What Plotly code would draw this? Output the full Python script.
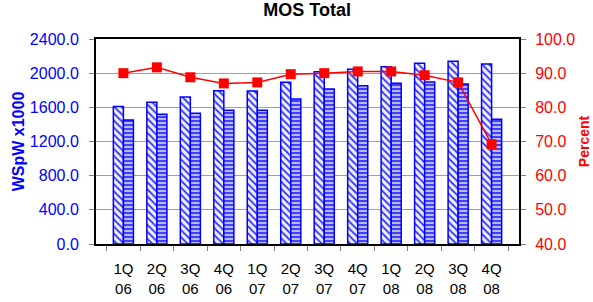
import plotly.graph_objects as go
from plotly.subplots import make_subplots

quarters = ["1Q<br>06", "2Q<br>06", "3Q<br>06", "4Q<br>06", "1Q<br>07", "2Q<br>07",
            "3Q<br>07", "4Q<br>07", "1Q<br>08", "2Q<br>08", "3Q<br>08", "4Q<br>08"]
wspw_a = [1610, 1660, 1720, 1795, 1790, 1893, 2018, 2045, 2076, 2115, 2139, 2108]
wspw_b = [1452, 1520, 1530, 1565, 1565, 1698, 1815, 1854, 1881, 1897, 1873, 1460]
percent = [90.0, 91.7, 88.8, 87.0, 87.3, 89.7, 90.0, 90.5, 90.5, 89.4, 87.3, 69.2]

FONT = "Liberation Sans, Arial, sans-serif"

fig = make_subplots(specs=[[{"secondary_y": True}]])

fig.add_trace(go.Bar(
    x=quarters, y=wspw_a, name="A",
    marker=dict(color="white", line=dict(color="#0000ff", width=1.5),
                pattern=dict(shape="\\", fgcolor="#3333ff", bgcolor="#f0f0ff",
                             size=5, solidity=0.35, fillmode="replace")),
), secondary_y=False)
fig.add_trace(go.Bar(
    x=quarters, y=wspw_b, name="B",
    marker=dict(color="white", line=dict(color="#0000ff", width=1.5),
                pattern=dict(shape="-", fgcolor="#3333ff", bgcolor="#b8b8ff",
                             size=4, solidity=0.45, fillmode="replace")),
), secondary_y=False)
fig.add_trace(go.Scatter(
    x=quarters, y=percent, name="Percent", mode="lines+markers",
    line=dict(color="#ff0000", width=1.5),
    marker=dict(symbol="square", size=10, color="#ff0000"),
), secondary_y=True)

fig.update_layout(
    width=593, height=302,
    margin=dict(l=96, r=74, t=39, b=58, autoexpand=False),
    paper_bgcolor="white", plot_bgcolor="white",
    showlegend=False,
    barmode="group", bargap=0.40, bargroupgap=0.0,
    title=dict(text="<b>MOS Total</b>", x=0.518, xanchor="center", y=0.99, yanchor="top",
               font=dict(family=FONT, size=18, color="black")),
    font=dict(family=FONT),
)
fig.update_layout(xaxis=dict(domain=[0, 1]))

fig.update_xaxes(
    type="category", tickson="boundaries", automargin=False,
    ticks="outside", ticklen=5, tickcolor="#808080",
    ticklabelstandoff=10,
    showline=True, linecolor="black", linewidth=2, mirror=True,
    showgrid=False,
    tickfont=dict(family=FONT, size=15, color="black"),
)
fig.update_yaxes(
    range=[0, 2400], dtick=400, tickformat=".1f", automargin=False,
    ticks="outside", ticklen=5, tickcolor="#808080",
    ticklabelstandoff=7,
    showline=True, linecolor="black", linewidth=2,
    showgrid=True, gridcolor="#a0a0a0", gridwidth=1,
    zeroline=False,
    tickfont=dict(family=FONT, size=16, color="#0000ff"),
    title=dict(text="<b>WSpW x1000</b>", font=dict(family=FONT, size=16, color="#0000ff"), standoff=1),
    secondary_y=False,
)
fig.update_yaxes(
    range=[40, 100], dtick=10, tickformat=".1f", automargin=False,
    ticks="outside", ticklen=5, tickcolor="#808080",
    ticklabelstandoff=6,
    showline=True, linecolor="black", linewidth=2,
    showgrid=False, zeroline=False,
    tickfont=dict(family=FONT, size=16, color="#ff0000"),
    title=dict(text="<b>Percent</b>", font=dict(family=FONT, size=14, color="#ff0000"), standoff=5),
    secondary_y=True,
)

fig.write_html("out.html", config={"displayModeBar": False},
               post_script="document.body.style.margin='0';document.body.style.padding='0';")
